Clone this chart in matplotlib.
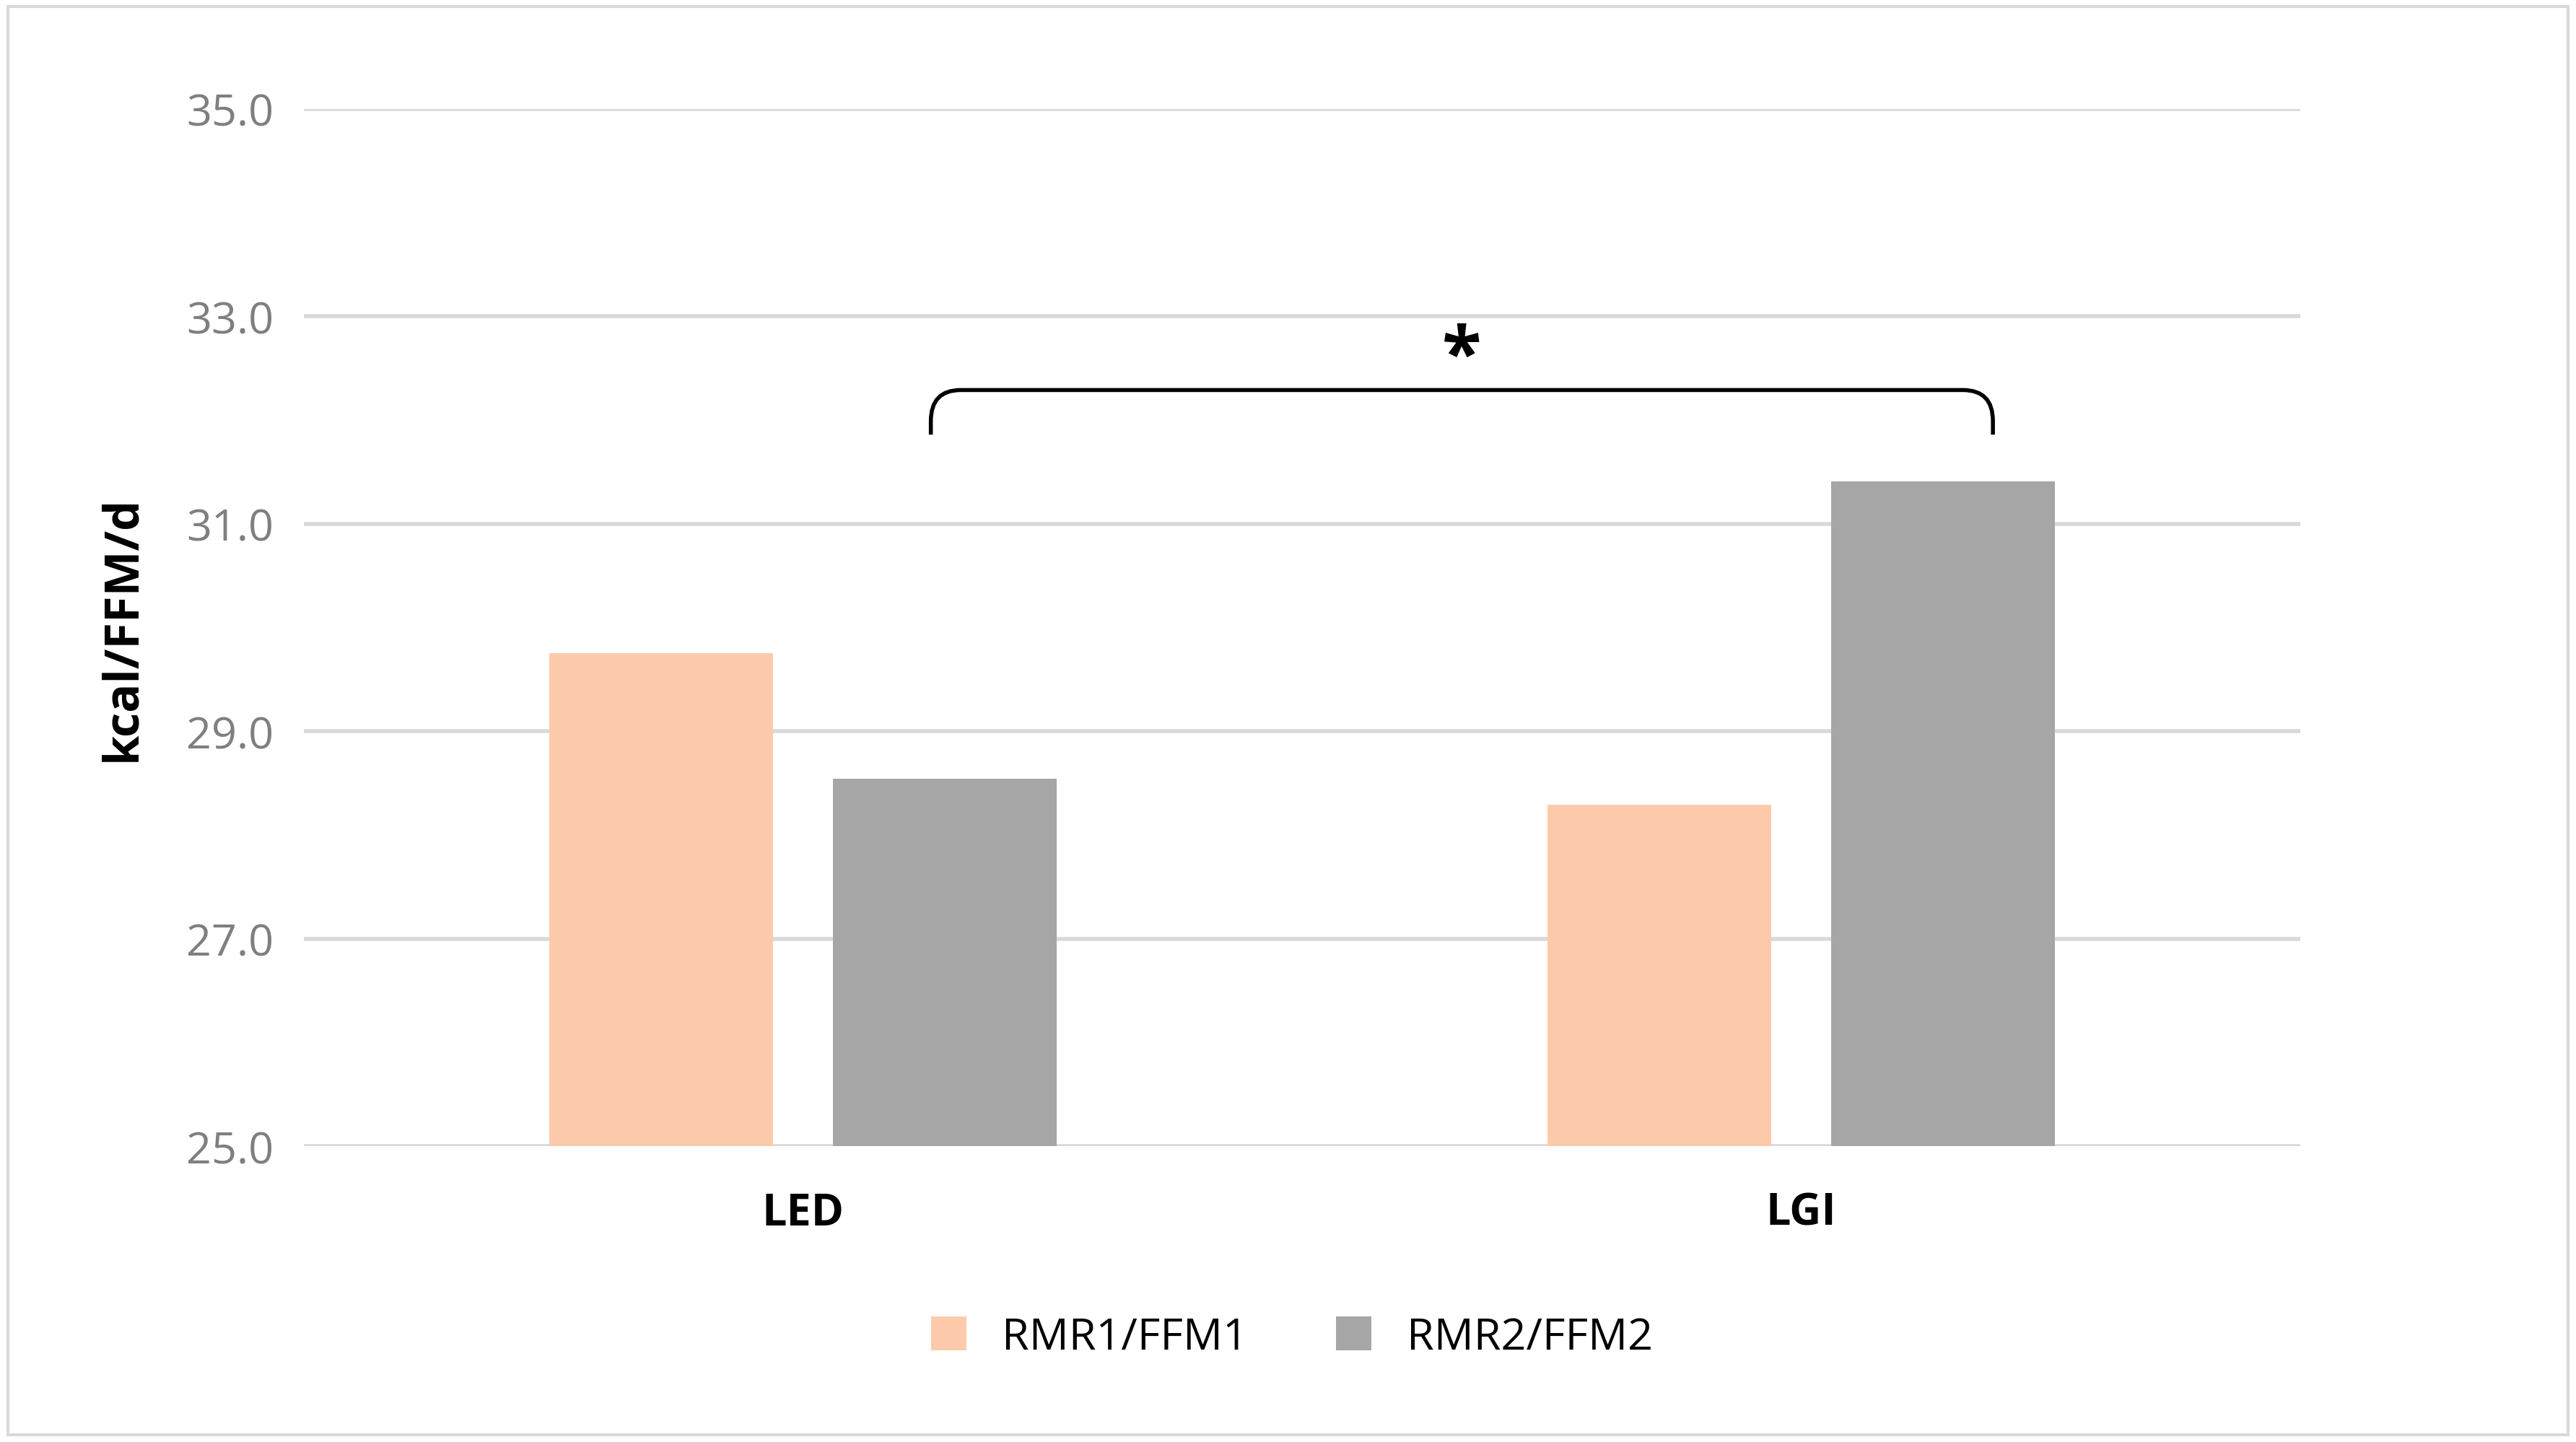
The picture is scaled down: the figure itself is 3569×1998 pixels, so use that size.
import matplotlib
matplotlib.use("Agg")
import matplotlib.pyplot as plt
import numpy as np
from matplotlib.patches import Rectangle, PathPatch
from matplotlib.path import Path

# ----- data -----
categories = ['LED', 'LGI']
rmr1_ffm1 = [29.75, 28.29]
rmr2_ffm2 = [28.54, 31.41]
series_names = ['RMR1/FFM1', 'RMR2/FFM2']
yticks = [25.0, 27.0, 29.0, 31.0, 33.0, 35.0]

# ----- styles -----
plt.rcParams['font.family'] = ['Open Sans', 'DejaVu Sans']
peach = '#fdcbac'
grey = '#a6a6a6'

fig = plt.figure(figsize=(35.69, 19.99), dpi=100)
ax = fig.add_axes([0.118, 0.205, 0.775, 0.719])

x = np.arange(len(categories))
w = 0.224
off = 0.142
ax.bar(x - off, rmr1_ffm1, w, color=peach, label=series_names[0], zorder=3)
ax.bar(x + off, rmr2_ffm2, w, color=grey, label=series_names[1], zorder=3)

ax.set_xlim(-0.5, 1.5)
ax.set_ylim(25, 35)
ax.set_yticks(yticks)
ax.set_yticklabels([f'{v:.1f}' for v in yticks], fontsize=44, color='#7f7f7f')
ax.set_xticks(x)
ax.set_xticklabels(categories, fontsize=44, fontweight='bold')
ax.tick_params(length=0, pad=30)
ax.tick_params(axis='x', pad=45)
ax.grid(axis='y', color='#d9d9d9', lw=4, zorder=0)
for s in ax.spines.values():
    s.set_visible(False)
ax.set_ylabel('kcal/FFM/d', fontsize=48, fontweight='bold', labelpad=40)

# significance bracket with rounded corners
x0, x1 = 0.128, 1.192
yb, yt = 31.86, 32.29
rx, ry = 0.03, 0.3
verts = [(x0, yb), (x0, yt - ry), (x0, yt), (x0 + rx, yt),
         (x1 - rx, yt), (x1, yt), (x1, yt - ry), (x1, yb)]
codes = [Path.MOVETO, Path.LINETO, Path.CURVE3, Path.CURVE3,
         Path.LINETO, Path.CURVE3, Path.CURVE3, Path.LINETO]
ax.add_patch(PathPatch(Path(verts, codes), fill=False, ec='black', lw=4,
                       clip_on=False, zorder=4))
ax.text((x0 + x1) / 2, yt - 0.05, '*', ha='center', va='bottom', fontsize=72,
        fontweight='bold')

ax.legend(loc='upper center', bbox_to_anchor=(0.495, -0.125), ncol=2, frameon=False,
          fontsize=44, handlelength=0.8, handleheight=0.8, columnspacing=2.0)

fig.patches.append(Rectangle((0.003, 0.005), 0.994, 0.99, transform=fig.transFigure,
                             fill=False, ec='#d9d9d9', lw=3))

fig.savefig('out.png', dpi=100)
